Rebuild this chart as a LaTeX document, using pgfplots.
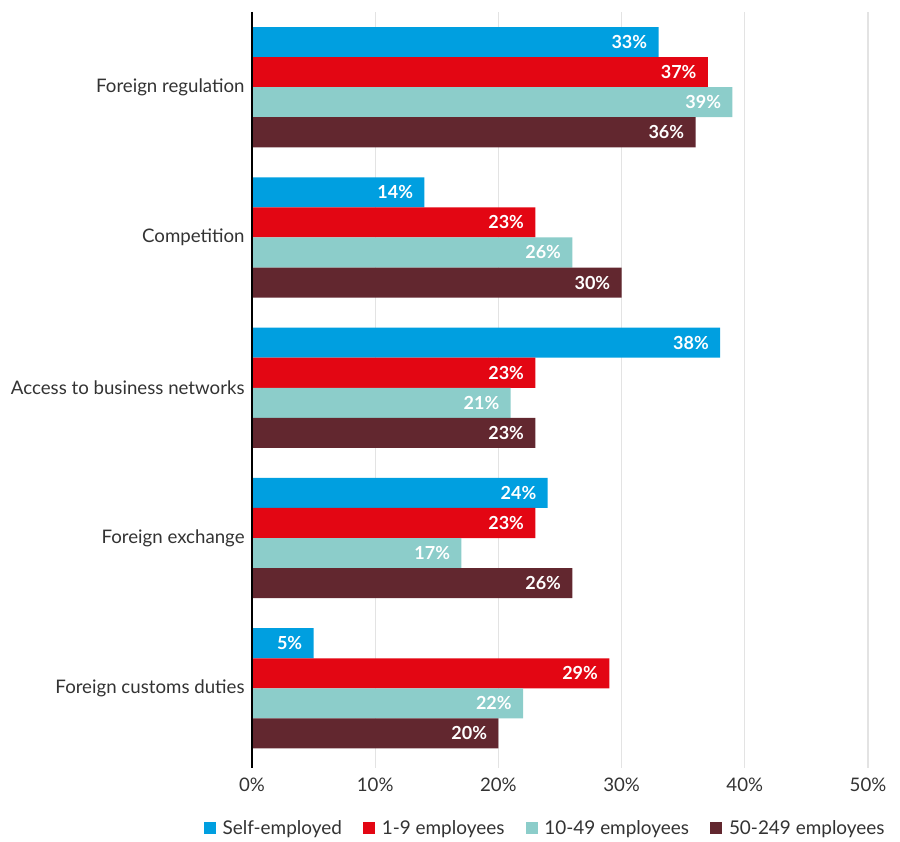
\documentclass[border=0pt]{standalone}
\usepackage{fontspec}
\setmainfont{Lato}
\usepackage{pgfplots}
\pgfplotsset{compat=1.18}

\definecolor{cself}{HTML}{009FE0}
\definecolor{csmall}{HTML}{E30613}
\definecolor{cmid}{HTML}{8CCDCA}
\definecolor{clarge}{HTML}{62272F}
\definecolor{cgrid}{HTML}{E3E3E3}

% one row per barrier, top to bottom
\pgfplotstableread{
pos self small mid large
0 33 37 39 36
1 14 23 26 30
2 38 23 21 23
3 24 23 17 26
4 5 29 22 20
}\barriers

\begin{document}
\begin{tikzpicture}
\begin{axis}[
    name=ax,
    scale only axis,
    width=462pt, height=567pt,
    xbar, bar width=0.2,
    xmin=0, xmax=50,
    ymin=-0.5, ymax=4.53,
    y dir=reverse,
    axis line style={draw=none},
    xtick={0,10,...,50},
    xticklabel={\pgfmathprintnumber{\tick}\%},
    ytick={0,1,2,3,4},
    yticklabels={Foreign regulation, Competition, Access to business networks, Foreign exchange, Foreign customs duties},
    major tick length=0pt,
    xmajorgrids, grid style={cgrid, line width=0.8pt},
    /pgf/number format/assume math mode=true,
    tick label style={font=\fontsize{14}{16}\selectfont, text=black!80},
    xticklabel style={yshift=-4pt},
    yticklabel style={xshift=-2pt},
    point meta=x,
    nodes near coords={\pgfmathprintnumber{\pgfplotspointmeta}\%},
    every node near coord/.append style={anchor=east, xshift=-5pt, text=white, font=\bfseries\fontsize{13.5}{15}\selectfont},
    legend style={draw=none, at={(axis description cs:-0.1153,-0.0794)}, anchor=west, legend columns=4, font=\fontsize{14.2}{16}\selectfont, text=black!80},
    legend image code/.code={\path[draw=none, fill=none] (-14pt,0pt) -- (12pt,0pt); \fill[#1, draw=none] (0pt,-4.5pt) rectangle (9pt,4.5pt);},
]
\addplot[fill=cself, draw=none, bar shift=-0.3] table[x=self, y=pos] {\barriers};
\addplot[fill=csmall, draw=none, bar shift=-0.1] table[x=small, y=pos] {\barriers};
\addplot[fill=cmid, draw=none, bar shift=0.1] table[x=mid, y=pos] {\barriers};
\addplot[fill=clarge, draw=none, bar shift=0.3] table[x=large, y=pos] {\barriers};
\legend{Self-employed, 1-9 employees, 10-49 employees, 50-249 employees}
\end{axis}
\draw[black, line width=0.9pt] (ax.north west) -- (ax.south west);
\path ([xshift=-189pt, yshift=9pt]ax.north west) rectangle ([xshift=486pt, yshift=-54pt]ax.south west);
\end{tikzpicture}
\end{document}
